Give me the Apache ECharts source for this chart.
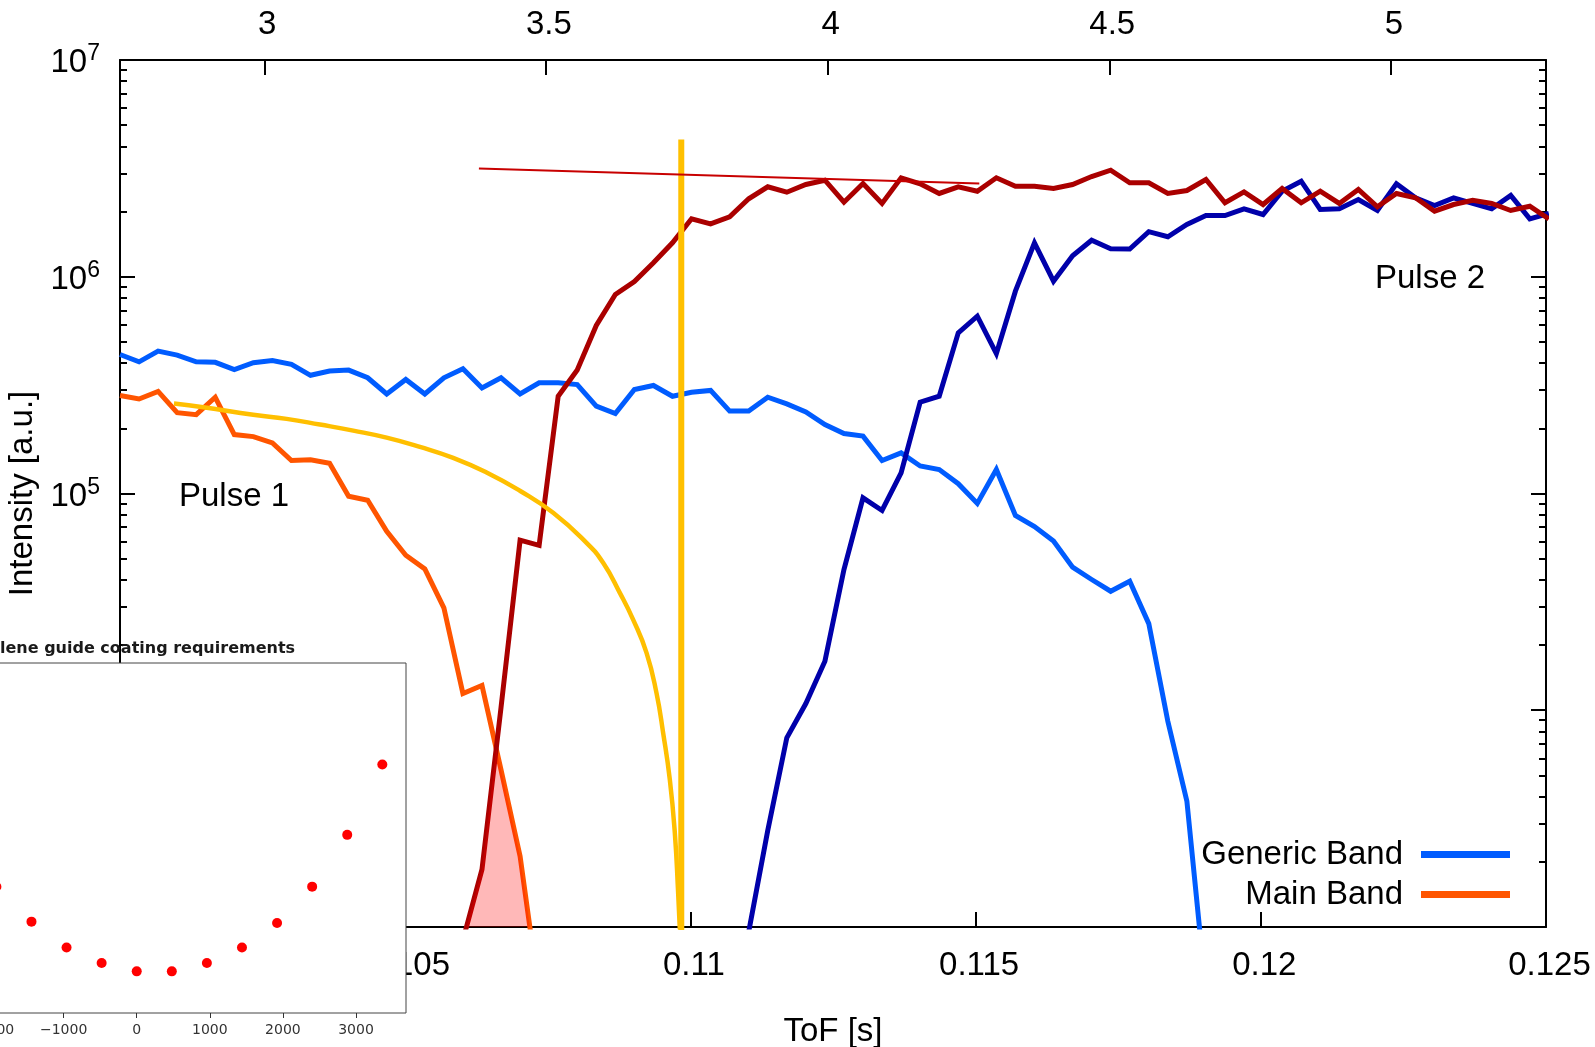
<!DOCTYPE html>
<html>
<head>
<meta charset="utf-8">
<script src="https://cdn.jsdelivr.net/npm/echarts@6/dist/echarts.min.js"></script>
<style>
  html, body { margin: 0; padding: 0; background: #fff; }
  #chart { width: 1595px; height: 1047px; }
</style>
</head>
<body>
<div id="chart"></div>
<script>
// time-of-flight bins [s]
var tof = [0.100000, 0.100334, 0.100668, 0.101002, 0.101336, 0.101670, 0.102004, 0.102338, 0.102672, 0.103006,
           0.103340, 0.103674, 0.104008, 0.104342, 0.104676, 0.105010, 0.105344, 0.105678, 0.106012, 0.106346,
           0.106680, 0.107014, 0.107348, 0.107682, 0.108016, 0.108350, 0.108684, 0.109018, 0.109352, 0.109686,
           0.110020, 0.110354, 0.110688, 0.111022, 0.111356, 0.111690, 0.112024, 0.112358, 0.112692, 0.113026,
           0.113360, 0.113694, 0.114028, 0.114362, 0.114696, 0.115030, 0.115364, 0.115698, 0.116032, 0.116366,
           0.116700, 0.117034, 0.117368, 0.117702, 0.118036, 0.118370, 0.118704, 0.119038, 0.119372, 0.119706,
           0.120040, 0.120374, 0.120708, 0.121042, 0.121376, 0.121710, 0.122044, 0.122378, 0.122712, 0.123046,
           0.123380, 0.123714, 0.124048, 0.124382, 0.124716, 0.125050];

// pulse 1, generic band (starts at bin 0)
var generic1 = [4.38e5, 4.05e5, 4.54e5, 4.35e5, 4.05e5, 4.03e5, 3.73e5, 4.01e5, 4.11e5, 3.94e5,
                3.51e5, 3.67e5, 3.71e5, 3.42e5, 2.88e5, 3.36e5, 2.88e5, 3.42e5, 3.76e5, 3.07e5,
                3.42e5, 2.88e5, 3.24e5, 3.24e5, 3.18e5, 2.53e5, 2.34e5, 3.02e5, 3.15e5, 2.81e5,
                2.93e5, 2.99e5, 2.40e5, 2.40e5, 2.78e5, 2.59e5, 2.38e5, 2.08e5, 1.89e5, 1.84e5,
                1.42e5, 1.54e5, 1.34e5, 1.29e5, 1.11e5, 9.0e4, 1.29e5, 7.92e4, 7.04e4, 6.03e4,
                4.57e4, 4.01e4, 3.54e4, 3.94e4, 2.51e4, 8.9e3, 3.81e3, 500];
// pulse 1, main band (starts at bin 0)
var main1 = [2.83e5, 2.73e5, 2.96e5, 2.36e5, 2.31e5, 2.78e5, 1.87e5, 1.83e5, 1.71e5, 1.42e5,
             1.43e5, 1.38e5, 9.71e4, 9.31e4, 6.70e4, 5.19e4, 4.49e4, 2.97e4, 1.195e4, 1.30e4,
             5.31e3, 2.12e3, 490];
// pulse 2, main band (starts at bin 18)
var main2Start = 18;
var main2 = [870, 1842, 1.03e4, 6.09e4, 5.76e4, 2.81e5, 3.71e5, 5.96e5, 8.28e5, 9.51e5,
             1.16e6, 1.434e6, 1.851e6, 1.755e6, 1.891e6, 2.289e6, 2.60e6, 2.455e6, 2.665e6, 2.788e6,
             2.208e6, 2.693e6, 2.178e6, 2.861e6, 2.685e6, 2.422e6, 2.60e6, 2.481e6, 2.861e6, 2.617e6,
             2.617e6, 2.554e6, 2.665e6, 2.90e6, 3.10e6, 2.713e6, 2.713e6, 2.422e6, 2.50e6, 2.81e6,
             2.194e6, 2.465e6, 2.154e6, 2.554e6, 2.194e6, 2.481e6, 2.178e6, 2.527e6, 2.102e6, 2.422e6,
             2.313e6, 2.006e6, 2.154e6, 2.255e6, 2.178e6, 2.022e6, 2.116e6, 1.847e6];
// pulse 2, generic band (starts at bin 33)
var generic2Start = 33;
var generic2 = [950, 2.79e3, 7.46e3, 1.074e4, 1.684e4, 4.46e4, 9.55e4, 8.35e4, 1.246e5, 2.64e5,
                2.81e5, 5.51e5, 6.58e5, 4.42e5, 8.58e5, 1.434e6, 9.54e5, 1.25e6, 1.474e6, 1.346e6,
                1.342e6, 1.614e6, 1.529e6, 1.742e6, 1.917e6, 1.917e6, 2.058e6, 1.937e6, 2.481e6, 2.76e6,
                2.043e6, 2.058e6, 2.272e6, 2.022e6, 2.685e6, 2.313e6, 2.132e6, 2.313e6, 2.178e6, 2.058e6,
                2.371e6, 1.851e6, 1.958e6];

// transmission curve
var curveT = [0.100946, 0.101460, 0.102336, 0.102921, 0.103505, 0.104089, 0.104674, 0.105258, 0.105841, 0.106427,
              0.107010, 0.107594, 0.108179, 0.108470, 0.108763, 0.108996, 0.109231, 0.109406, 0.109522, 0.109639,
              0.109727, 0.109785, 0.109830];
var curveI = [2.60e5, 2.50e5, 2.31e5, 2.21e5, 2.08e5, 1.95e5, 1.81e5, 1.64e5, 1.46e5, 1.25e5,
              1.03e5, 8.15e4, 5.92e4, 4.79e4, 3.48e4, 2.62e4, 1.84e4, 1.20e4, 7.87e3, 4.79e3,
              2.72e3, 1.44e3, 800];
// vertical cut and the thin level line
var cutT = [0.10984, 0.10984];
var cutI = [4.3e6, 900];
var levelT = [0.106292, 0.115065];
var levelI = [3.16e6, 2.69e6];

// inset scatter
var insetX = [-1920, -1440, -960, -480, 0, 480, 960, 1440, 1920, 2400, 2880, 3360];
var insetY = [36.1, 26.1, 18.7, 14.3, 11.9, 11.9, 14.3, 18.7, 25.7, 36.1, 50.9, 71.0];

// ticks
var lambdaTicks = [3, 3.5, 4, 4.5, 5];
var majorTicks = [1e3, 1e4, 1e5, 1e6, 1e7];
var minorTicks = [2e3, 3e3, 4e3, 5e3, 6e3, 7e3, 8e3, 9e3,
                  2e4, 3e4, 4e4, 5e4, 6e4, 7e4, 8e4, 9e4,
                  2e5, 3e5, 4e5, 5e5, 6e5, 7e5, 8e5, 9e5,
                  2e6, 3e6, 4e6, 5e6, 6e6, 7e6, 8e6, 9e6];
var insetTicks = [-2000, -1000, 0, 1000, 2000, 3000];

var FONT = '"Liberation Sans", Arial, sans-serif';
var FS = 33;

function pairs(xs, ys, start) {
  start = start || 0;
  return ys.map(function (y, i) { return [xs[start + i], y]; });
}

// lower envelope of two series (straight lines in log space) for the overlap fill
function overlap(a, aStart, b, bStart, from, to) {
  var pts = [];
  function la(n) { return Math.log10(a[n - aStart]); }
  function lb(n) { return Math.log10(b[n - bStart]); }
  for (var n = from; n <= to; n++) {
    var d = la(n) - lb(n);
    if (n > from) {
      var dp = la(n - 1) - lb(n - 1);
      if (dp * d < 0) {
        var t = dp / (dp - d);
        pts.push([tof[n - 1] + t * (tof[n] - tof[n - 1]),
                  Math.pow(10, la(n - 1) + t * (la(n) - la(n - 1)))]);
      }
    }
    pts.push([tof[n], Math.pow(10, Math.min(la(n), lb(n)))]);
  }
  return pts;
}

function line(name, data, color, width, z) {
  return {
    name: name, type: 'line', data: data, xAxisIndex: 0, yAxisIndex: 0,
    showSymbol: false, symbol: 'none', z: z || 2, silent: true,
    itemStyle: { color: color },
    lineStyle: { color: color, width: width, join: 'miter', cap: 'butt' }
  };
}

var black = { color: '#000', width: 2 };

function logAxis(pos, ticks, len, withLine, withLabel, extra) {
  var ax = {
    type: 'log', logBase: 10, gridIndex: 0, position: pos, min: 1e3, max: 1e7,
    axisLine: { show: withLine, onZero: false, lineStyle: black },
    axisTick: { show: true, inside: true, length: len, customValues: ticks, lineStyle: black },
    axisLabel: { show: false },
    splitLine: { show: false }
  };
  if (withLabel) {
    ax.axisLabel = {
      show: true, margin: 20,
      formatter: function (v) { return '{b|10}{s|' + Math.round(Math.log10(v)) + '}'; },
      rich: {
        b: { fontSize: FS, color: '#000', fontFamily: FONT, padding: [6, 0, 0, 0] },
        s: { fontSize: 23, color: '#000', fontFamily: FONT, padding: [0, 0, 12, 0] }
      }
    };
  }
  return Object.assign(ax, extra || {});
}

var chart = echarts.init(document.getElementById('chart'));
var option = {
  animation: false,
  backgroundColor: '#fff',
  textStyle: { fontFamily: FONT },
  grid: [
    { left: 120, right: 49, top: 60, bottom: 120, outerBoundsMode: 'none', containLabel: false },
    { left: -46, right: 1189, top: 663, bottom: 34, show: true, backgroundColor: '#fff',
      borderColor: '#444', borderWidth: 1, z: 10, outerBoundsMode: 'none', containLabel: false }
  ],
  legend: {
    data: [{ name: 'Generic Band', icon: 'rect' }, { name: 'Main Band', icon: 'rect' }],
    orient: 'vertical', align: 'right', right: 80, top: 833,
    itemWidth: 89, itemHeight: 7, itemGap: 7, selectedMode: false,
    textStyle: { fontSize: FS, color: '#000', fontFamily: FONT, padding: [0, 13, 0, 0] }
  },
  xAxis: [
    { type: 'value', gridIndex: 0, position: 'bottom', min: 0.1, max: 0.125, interval: 0.005,
      name: 'ToF [s]', nameLocation: 'middle', nameGap: 88,
      nameTextStyle: { fontSize: FS, color: '#000', fontFamily: FONT },
      axisLine: { onZero: false, lineStyle: black },
      axisTick: { inside: true, length: 15, lineStyle: black },
      axisLabel: { fontSize: FS, color: '#000', margin: 22, fontFamily: FONT, padding: [0, 0, 0, 7] },
      splitLine: { show: false } },
    { type: 'value', gridIndex: 0, position: 'top', min: 2.7439, max: 5.2753,
      axisLine: { onZero: false, lineStyle: black },
      axisTick: { inside: true, length: 15, customValues: lambdaTicks, lineStyle: black },
      axisLabel: { customValues: lambdaTicks, fontSize: FS, color: '#000', margin: 19,
                   fontFamily: FONT, padding: [0, 0, 0, 6] },
      splitLine: { show: false } },
    { type: 'value', gridIndex: 1, min: -2500, max: 3684, z: 11,
      axisLine: { show: false },
      axisTick: { show: true, length: 5, customValues: insetTicks, lineStyle: { color: '#333', width: 1 } },
      axisLabel: { customValues: insetTicks, fontSize: 14, color: '#333', margin: 10,
                   fontFamily: '"DejaVu Sans", sans-serif',
                   formatter: function (v) { return String(v).replace('-', '\u2212'); } },
      splitLine: { show: false } }
  ],
  yAxis: [
    logAxis('left', majorTicks, 15, true, true, {
      name: 'Intensity [a.u.]', nameLocation: 'middle', nameRotate: 90, nameGap: 71,
      nameTextStyle: { fontSize: FS, color: '#000', fontFamily: FONT }
    }),
    logAxis('left', minorTicks, 7, false, false),
    logAxis('right', majorTicks, 15, true, false),
    logAxis('right', minorTicks, 7, false, false),
    { type: 'value', gridIndex: 1, min: 0, max: 100, show: false, z: 11 }
  ],
  graphic: [
    { type: 'text', x: 179, y: 497, z: 20, silent: true,
      style: { text: 'Pulse 1', font: FS + 'px ' + FONT, fill: '#000', verticalAlign: 'middle' } },
    { type: 'text', x: 1375, y: 279, z: 20, silent: true,
      style: { text: 'Pulse 2', font: FS + 'px ' + FONT, fill: '#000', verticalAlign: 'middle' } },
    { type: 'text', x: 0, y: 649, z: 20, silent: true,
      style: { text: 'lene guide coating requirements', font: 'bold 16px "DejaVu Sans", sans-serif',
               fill: '#1a1a1a', verticalAlign: 'middle' } }
  ],
  series: [
    line('Generic Band', pairs(tof, generic1), '#005cff', 5, 2),
    line('Main Band', pairs(tof, main1), '#ff5500', 5, 2),
    line('Generic Band 2', pairs(tof, generic2, generic2Start), '#0000aa', 5, 3),
    line('Main Band 2', pairs(tof, main2, main2Start), '#aa0000', 5, 3),
    Object.assign(line('curve', pairs(curveT, curveI), '#ffbf00', 4.5, 4), { smooth: 0.5 }),
    line('cut', pairs(cutT, cutI), '#ffc000', 6, 4),
    line('level', pairs(levelT, levelI), '#c80000', 2, 4),
    { name: 'overlap', type: 'line', xAxisIndex: 0, yAxisIndex: 0, z: 5, silent: true,
      data: overlap(main2, main2Start, main1, 0, 18, 22),
      showSymbol: false, symbol: 'none',
      lineStyle: { width: 0 },
      areaStyle: { color: 'rgba(255,0,0,0.4)', origin: 'start' } },
    { name: 'inset', type: 'scatter', xAxisIndex: 2, yAxisIndex: 4, z: 12, silent: true,
      data: pairs(insetX, insetY), symbolSize: 10, itemStyle: { color: '#ff0000', opacity: 1 } }
  ]
};
chart.setOption(option);
</script>
</body>
</html>
